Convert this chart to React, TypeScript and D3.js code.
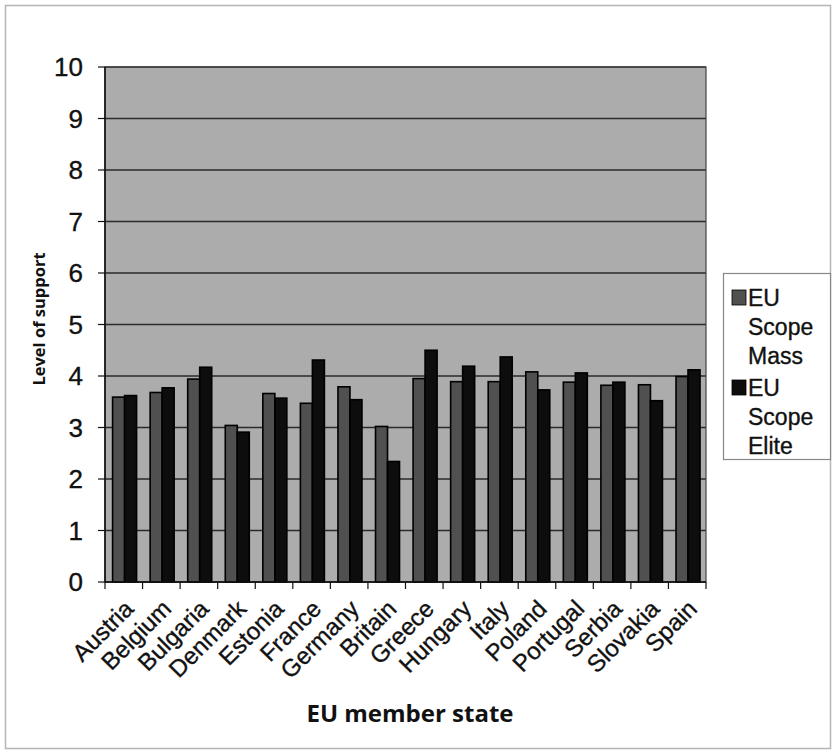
import React from "react";
import * as d3 from "d3";

const categories = ["Austria","Belgium","Bulgaria","Denmark","Estonia","France","Germany","Britain","Greece","Hungary","Italy","Poland","Portugal","Serbia","Slovakia","Spain"];
const massValues = [3.59,3.68,3.94,3.04,3.66,3.47,3.79,3.02,3.95,3.89,3.89,4.08,3.88,3.82,3.83,3.99];
const eliteValues = [3.62,3.77,4.17,2.91,3.57,4.31,3.54,2.34,4.50,4.19,4.37,3.73,4.06,3.88,3.52,4.12];
const yTicks = [0,1,2,3,4,5,6,7,8,9,10];
const seriesNames = ["EU Scope Mass","EU Scope Elite"];
const seriesColors = ["#505050","#0d0d0d"];

const W = 838, H = 754;
const plot = { left: 105, right: 706, top: 67, bottom: 582 };

export default function App() {
  const x = d3.scaleBand<string>().domain(categories).range([plot.left, plot.right]).paddingInner(0).paddingOuter(0);
  const y = d3.scaleLinear().domain([0, 10]).range([plot.bottom, plot.top]);
  const bw = x.bandwidth();
  const barW = 12;
  const sub = d3.scaleBand<number>().domain([0, 1]).range([0, barW * 2]);
  const series = [massValues, eliteValues];
  const font = "'Liberation Sans', Arial, sans-serif";
  const boldFont = "'Open Sans', 'Liberation Sans', sans-serif";
  const txt = { fill: "#111", stroke: "#111", strokeWidth: 0.35 };

  return (
    <svg width={W} height={H} style={{ display: "block", position: "absolute", left: 0, top: 0 }}>
      <rect x={0} y={0} width={W} height={H} fill="#ffffff" />
      <rect x={5.5} y={5.5} width={825} height={743} fill="none" stroke="#b5b5b5" strokeWidth={1.5} />
      {/* plot background */}
      <rect x={plot.left} y={plot.top} width={plot.right - plot.left} height={plot.bottom - plot.top} fill="#acacac" />
      {/* gridlines */}
      {yTicks.map((t) => (
        <line key={"g" + t} x1={plot.left} x2={plot.right} y1={y(t)} y2={y(t)} stroke="#2a2a2a" strokeWidth={1.5} />
      ))}
      <rect x={plot.left} y={plot.top} width={plot.right - plot.left} height={plot.bottom - plot.top} fill="none" stroke="#444" strokeWidth={1.2} />
      {/* bars */}
      {categories.map((c, i) => {
        const gx = (x(c) as number) + (bw - barW * 2) / 2 + 0.8;
        return series.map((s, si) => (
          <rect key={c + si} x={gx + (sub(si) as number)} y={y(s[i])} width={barW} height={plot.bottom - y(s[i])}
            fill={seriesColors[si]} stroke="#000" strokeWidth={1.6} />
        ));
      })}
      {/* y axis */}
      <line x1={plot.left} x2={plot.left} y1={plot.top} y2={plot.bottom} stroke="#111" strokeWidth={1.6} />
      {yTicks.map((t) => (
        <g key={"yt" + t}>
          <line x1={plot.left - 7} x2={plot.left} y1={y(t)} y2={y(t)} stroke="#111" strokeWidth={1.2} />
          <text x={plot.left - 22} y={y(t)} dy="0.36em" textAnchor="end" fontFamily={font} fontSize={26} {...txt}>{t}</text>
        </g>
      ))}
      {/* x axis */}
      <line x1={plot.left} x2={plot.right} y1={plot.bottom} y2={plot.bottom} stroke="#111" strokeWidth={1.6} />
      {categories.map((c, i) => (
        <line key={"xt" + i} x1={x(c) as number} x2={x(c) as number} y1={plot.bottom} y2={plot.bottom + 7} stroke="#111" strokeWidth={1.2} />
      ))}
      <line x1={plot.right} x2={plot.right} y1={plot.bottom} y2={plot.bottom + 7} stroke="#111" strokeWidth={1.2} />
      {categories.map((c) => {
        const cx = (x(c) as number) + bw / 2;
        return (
          <text key={"xl" + c} transform={`translate(${cx - 1},${plot.bottom + 16}) rotate(-45)`} textAnchor="end" dy="0.72em"
            fontFamily={font} fontSize={24} {...txt}>{c}</text>
        );
      })}
      {/* axis titles */}
      <text transform={`translate(45,${319}) rotate(-90)`} textAnchor="middle" fontFamily={boldFont} fontWeight="bold" fontSize={16.5} fill="#111">Level of support</text>
      <text x={410} y={722} textAnchor="middle" fontFamily={boldFont} fontWeight="bold" fontSize={24} fill="#111">EU member state</text>
      {/* legend */}
      <rect x={723.5} y={273.5} width={107} height={186} fill="#fff" stroke="#888" strokeWidth={1.2} />
      {seriesNames.map((n, si) => {
        const words = ["EU", "Scope", n.split(" ")[2]];
        const top = 290 + si * 90;
        return (
          <g key={"lg" + si}>
            <rect x={732} y={top} width={14} height={15} fill={seriesColors[si]} stroke="#000" strokeWidth={0.8} />
            {words.map((w, wi) => (
              <text key={wi} x={748} y={top + 16 + wi * 29} fontFamily={font} fontSize={23} {...txt}>{w}</text>
            ))}
          </g>
        );
      })}
    </svg>
  );
}
